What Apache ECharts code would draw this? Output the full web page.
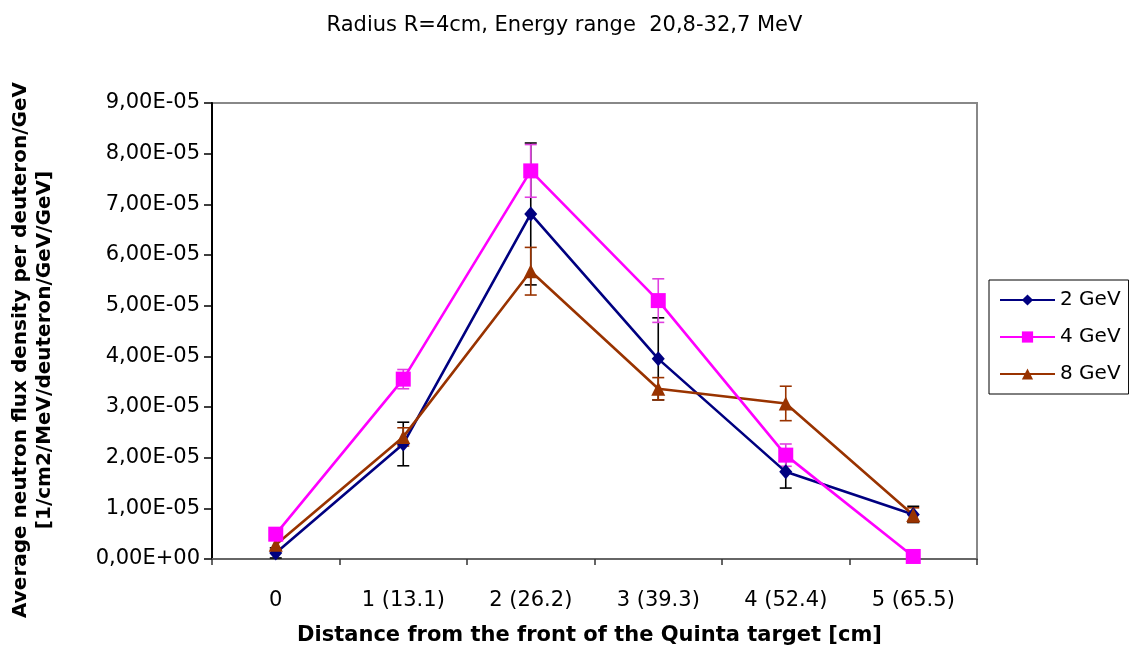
<!DOCTYPE html>
<html>
<head>
<meta charset="utf-8">
<script src="https://cdn.jsdelivr.net/npm/echarts@6/dist/echarts.min.js"></script>
<style>html,body{margin:0;padding:0;background:#fff}#c{width:1129px;height:653px}</style>
</head>
<body>
<div id="c"></div>
<script>
var categories = ['0', '1 (13.1)', '2 (26.2)', '3 (39.3)', '4 (52.4)', '5 (65.5)'];
var seriesNames = ['2 GeV', '4 GeV', '8 GeV'];
var flux2 = [1.2e-6, 2.27e-5, 6.81e-5, 3.95e-5, 1.72e-5, 0.88e-5];
var flux4 = [4.9e-6, 3.55e-5, 7.66e-5, 5.10e-5, 2.05e-5, 0.05e-5];
var flux8 = [2.8e-6, 2.41e-5, 5.68e-5, 3.36e-5, 3.07e-5, 0.87e-5];
var err2 = [0.1e-5, 0.43e-5, 1.4e-5, 0.81e-5, 0.32e-5, 0.16e-5];
var err4 = [0.1e-5, 0.19e-5, 0.52e-5, 0.43e-5, 0.22e-5, 0.0];
var err8 = [0.1e-5, 0.18e-5, 0.47e-5, 0.22e-5, 0.34e-5, 0.14e-5];
var yTicks = {min: 0, max: 9e-5, interval: 1e-5};
var titleText = 'Radius R=4cm, Energy range  20,8-32,7 MeV';
var xTitle = 'Distance from the front of the Quinta target [cm]';
var yTitle = 'Average neutron flux density per deuteron/GeV\n[1/cm2/MeV/deuteron/GeV/GeV]';

var colors = ['#000080', '#FF00FF', '#993300'];
var errColors = ['#000000', '#E040E0', '#993300'];
var FONT = 'DejaVu Sans';

function fmt(v) {
  if (Math.abs(v) < 1e-12) return '0,00E+00';
  var s = v.toExponential(2).split('e');
  var m = s[0].replace('.', ',');
  var e = parseInt(s[1], 10);
  var es = (e < 0 ? '-' : '+') + (Math.abs(e) < 10 ? '0' : '') + Math.abs(e);
  return m + 'E' + es;
}

function errData(vals, errs) {
  return vals.map(function (v, i) { return [i, v, errs[i]]; });
}

function errSeries(vals, errs, color) {
  return {
    type: 'custom',
    z: 1,
    silent: true,
    data: errData(vals, errs),
    renderItem: function (params, api) {
      var i = api.value(0), v = api.value(1), e = api.value(2);
      if (!e) return null;
      var top = api.coord([i, v + e]);
      var bot = api.coord([i, v - e]);
      var hw = 6;
      var st = {stroke: color, lineWidth: 1.6};
      return {
        type: 'group',
        children: [
          {type: 'line', shape: {x1: top[0], y1: top[1], x2: bot[0], y2: bot[1]}, style: st},
          {type: 'line', shape: {x1: top[0] - hw, y1: top[1], x2: top[0] + hw, y2: top[1]}, style: st},
          {type: 'line', shape: {x1: bot[0] - hw, y1: bot[1], x2: bot[0] + hw, y2: bot[1]}, style: st}
        ]
      };
    }
  };
}

var chart = echarts.init(document.getElementById('c'));
chart.setOption({
  animation: false,
  backgroundColor: '#fff',
  title: {
    text: titleText,
    left: 'center',
    top: 10,
    textStyle: {fontFamily: FONT, fontSize: 21, fontWeight: 'normal', color: '#000'}
  },
  graphic: [{
    type: 'text',
    x: 33, y: 350,
    rotation: Math.PI / 2,
    style: {
      text: yTitle,
      fontFamily: FONT, fontSize: 20, fontWeight: 'bold', fill: '#000',
      lineHeight: 24, align: 'center', verticalAlign: 'middle'
    }
  }],
  legend: {
    orient: 'vertical',
    left: 989,
    top: 280,
    width: 138,
    padding: [10, 8, 10, 10],
    itemGap: 17,
    itemWidth: 55,
    itemHeight: 14,
    borderColor: '#000',
    borderWidth: 1,
    borderRadius: 0,
    textStyle: {fontFamily: FONT, fontSize: 20, color: '#000', padding: [0, 0, 0, 0]},
    data: seriesNames
  },
  grid: {
    left: 212, right: 152, top: 103, bottom: 94,
    show: true, borderColor: '#888', borderWidth: 2, backgroundColor: 'transparent'
  },
  xAxis: {
    type: 'category',
    data: categories,
    boundaryGap: true,
    axisLine: {lineStyle: {color: '#666', width: 2}},
    axisTick: {show: true, length: 6, inside: false, lineStyle: {color: '#333', width: 1.5}},
    axisLabel: {margin: 31, fontFamily: FONT, fontSize: 21, color: '#000'},
    name: xTitle,
    nameLocation: 'middle',
    nameGap: 66,
    nameTextStyle: {fontFamily: FONT, fontSize: 21, fontWeight: 'bold', color: '#000', padding: [0, 10, 0, 0]}
  },
  yAxis: {
    type: 'value',
    min: yTicks.min, max: yTicks.max, interval: yTicks.interval,
    splitLine: {show: false},
    axisLine: {show: true, lineStyle: {color: '#000', width: 2}},
    axisTick: {show: true, length: 8, lineStyle: {color: '#000', width: 1.5}},
    axisLabel: {margin: 12, fontFamily: FONT, fontSize: 21, color: '#000', formatter: fmt}
  },
  series: [
    errSeries(flux2, err2, errColors[0]),
    errSeries(flux4, err4, errColors[1]),
    errSeries(flux8, err8, errColors[2]),
    {
      name: seriesNames[0], type: 'line', data: flux2, z: 3,
      symbol: 'diamond', symbolSize: [13, 15],
      lineStyle: {color: colors[0], width: 2.6},
      itemStyle: {color: colors[0]}
    },
    {
      name: seriesNames[1], type: 'line', data: flux4, z: 4,
      symbol: 'rect', symbolSize: 15,
      lineStyle: {color: colors[1], width: 2.6},
      itemStyle: {color: colors[1]}
    },
    {
      name: seriesNames[2], type: 'line', data: flux8, z: 3,
      symbol: 'triangle', symbolSize: 14,
      lineStyle: {color: colors[2], width: 2.6},
      itemStyle: {color: colors[2]}
    }
  ]
});
</script>
</body>
</html>
